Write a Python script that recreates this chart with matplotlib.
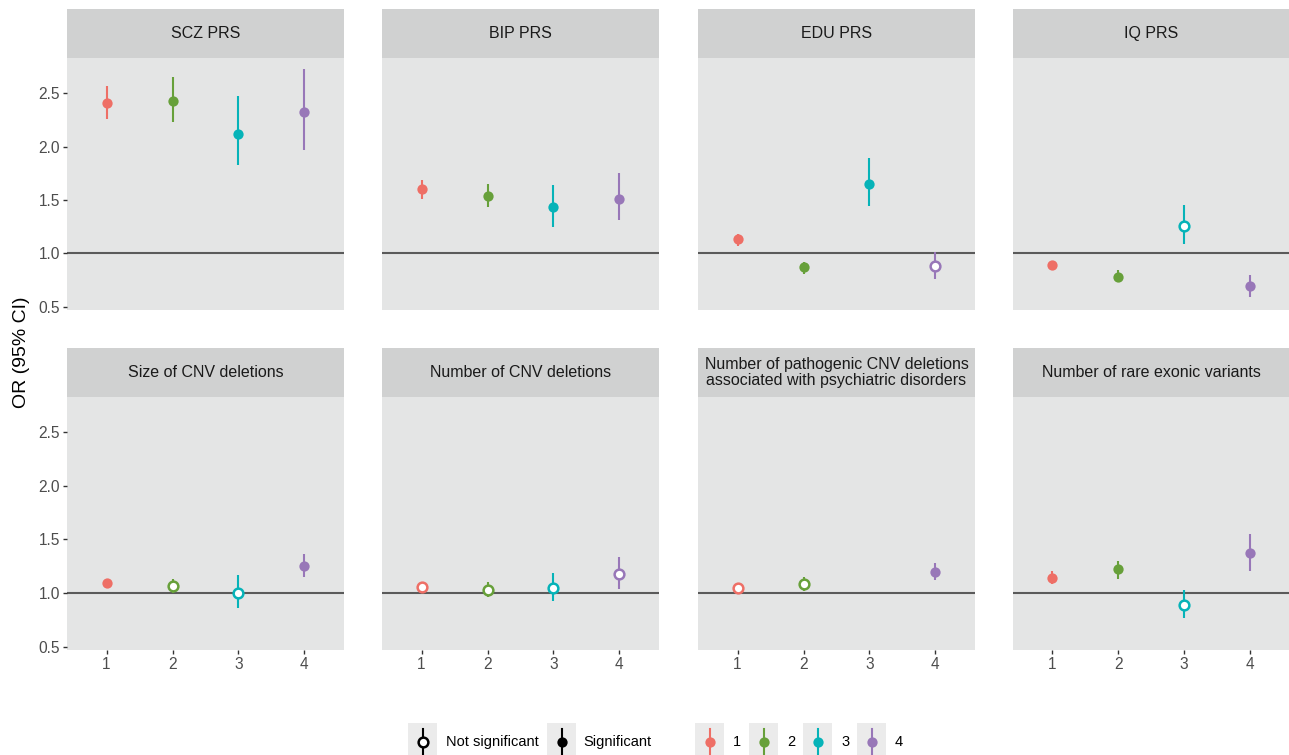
import matplotlib
matplotlib.use("Agg")
import matplotlib.pyplot as plt
from matplotlib.patches import Rectangle
from matplotlib.lines import Line2D

plt.rcParams['font.family'] = ['Liberation Sans', 'DejaVu Sans']

# ---------------- data ----------------
panels = ["SCZ PRS", "BIP PRS", "EDU PRS", "IQ PRS",
          "Size of CNV deletions", "Number of CNV deletions",
          "Number of pathogenic CNV deletions\nassociated with psychiatric disorders",
          "Number of rare exonic variants"]
groups = [1, 2, 3, 4]
group_colors = ["#EE6F66", "#67A03A", "#06B3B8", "#9877B8"]

or_est = [
    [2.41, 2.43, 2.12, 2.32],
    [1.60, 1.54, 1.43, 1.51],
    [1.13, 0.87, 1.65, 0.88],
    [0.89, 0.78, 1.26, 0.69],
    [1.09, 1.07, 1.00, 1.25],
    [1.06, 1.03, 1.05, 1.18],
    [1.05, 1.08, None, 1.20],
    [1.14, 1.22, 0.89, 1.37],
]
ci_low = [
    [2.26, 2.23, 1.83, 1.97],
    [1.51, 1.43, 1.25, 1.31],
    [1.07, 0.81, 1.44, 0.76],
    [0.85, 0.73, 1.09, 0.59],
    [1.05, 1.00, 0.86, 1.15],
    [1.04, 0.96, 0.93, 1.04],
    [1.03, 1.02, None, 1.12],
    [1.08, 1.13, 0.77, 1.21],
]
ci_high = [
    [2.57, 2.65, 2.47, 2.73],
    [1.69, 1.65, 1.64, 1.75],
    [1.18, 0.92, 1.89, 1.01],
    [0.93, 0.84, 1.45, 0.80],
    [1.13, 1.13, 1.17, 1.36],
    [1.08, 1.10, 1.19, 1.34],
    [1.07, 1.15, None, 1.28],
    [1.21, 1.30, 1.03, 1.55],
]
significant = [
    [True, True, True, True],
    [True, True, True, True],
    [True, True, True, False],
    [True, True, False, True],
    [True, False, False, True],
    [False, False, False, False],
    [False, False, None, True],
    [True, True, False, True],
]
y_ticks = [0.5, 1.0, 1.5, 2.0, 2.5]
y_tick_labels = ["0.5", "1.0", "1.5", "2.0", "2.5"]
y_label = "OR (95% CI)"
legend_sig_labels = ["Not significant", "Significant"]

# ---------------- layout ----------------
W, H = 1289, 755
fig = plt.figure(figsize=(W / 100, H / 100), dpi=100)

panel_bg = "#E4E5E5"
strip_bg = "#D0D1D1"
col_left = [67, 382, 698, 1013]
col_w = 277
rows = [(58, 310, 9), (397, 650, 348)]  # panel top, panel bottom, strip top

def fx(px):
    return px / W

def fy(py):
    return 1 - py / H

for i, name in enumerate(panels):
    r, c = divmod(i, 4)
    ptop, pbot, stop = rows[r]
    left = col_left[c]
    w = min(col_w, W - left)
    ax = fig.add_axes([fx(left), fy(pbot), w / W, (pbot - ptop) / H])
    ax.set_facecolor(panel_bg)
    for s in ax.spines.values():
        s.set_visible(False)
    ax.set_xlim(0.4, 4.6)
    ax.set_ylim(0.468, 2.83)
    ax.axhline(1.0, color="#5A5A5A", lw=1.5, zorder=1)
    for g in range(4):
        est = or_est[i][g]
        if est is None:
            continue
        col = group_colors[g]
        ax.plot([groups[g], groups[g]], [ci_low[i][g], ci_high[i][g]],
                color=col, lw=1.5, solid_capstyle="butt", zorder=2)
        if significant[i][g]:
            ax.plot(groups[g], est, "o", color=col, ms=7.4, mew=0, zorder=3)
        else:
            ax.plot(groups[g], est, "o", mfc="white", mec=col, ms=7.0,
                    mew=1.8, zorder=3)
    ax.set_yticks(y_ticks)
    ax.set_xticks(groups)
    ax.tick_params(axis="both", length=3, width=1.0, color="#333333",
                   labelcolor="#4D4D4D", labelsize=11.2, pad=2)
    if c == 0:
        ax.set_yticklabels(y_tick_labels)
    else:
        ax.tick_params(axis="y", left=False, labelleft=False)
    if r == 1:
        ax.set_xticklabels([str(g) for g in groups])
    else:
        ax.tick_params(axis="x", bottom=False, labelbottom=False)

    sax = fig.add_axes([fx(left), fy(ptop), w / W, (ptop - stop) / H])
    sax.set_facecolor(strip_bg)
    sax.set_xticks([]); sax.set_yticks([])
    for s in sax.spines.values():
        s.set_visible(False)
    sax.text(0.5, 0.5, name, ha="center", va="center", fontsize=11.5,
             color="#1A1A1A", transform=sax.transAxes, linespacing=1.0)

fig.text(fx(22), fy(352), y_label, rotation=90, ha="center", va="center",
         fontsize=14, color="black")

# ---------------- legend ----------------
lax = fig.add_axes([0, 0, 1, 1], facecolor="none")
lax.set_xlim(0, W)
lax.set_ylim(H, 0)
lax.axis("off")

key_bg = "#EBEBEB"
key_top, key_h = 723, 32
cy = 742

def key(x0, color, filled, label, tx):
    lax.add_patch(Rectangle((x0, key_top), 29, key_h, facecolor=key_bg,
                            edgecolor="none", clip_on=False))
    xc = x0 + 14.5
    lax.add_line(Line2D([xc, xc], [729, 755], color=color, lw=1.5))
    if filled:
        lax.plot(xc, cy, "o", color=color, ms=7.4, mew=0)
    else:
        lax.plot(xc, cy, "o", mfc="white", mec=color, ms=7.0, mew=1.8)
    lax.text(tx, cy, label, ha="left", va="center", fontsize=10.5, color="black")

key(408, "black", False, legend_sig_labels[0], 446)
key(547, "black", True, legend_sig_labels[1], 583)
for g, x0 in zip(range(4), [695, 749, 803, 857]):
    key(x0, group_colors[g], True, str(groups[g]), x0 + 38)

fig.savefig("out.png", dpi=100)
